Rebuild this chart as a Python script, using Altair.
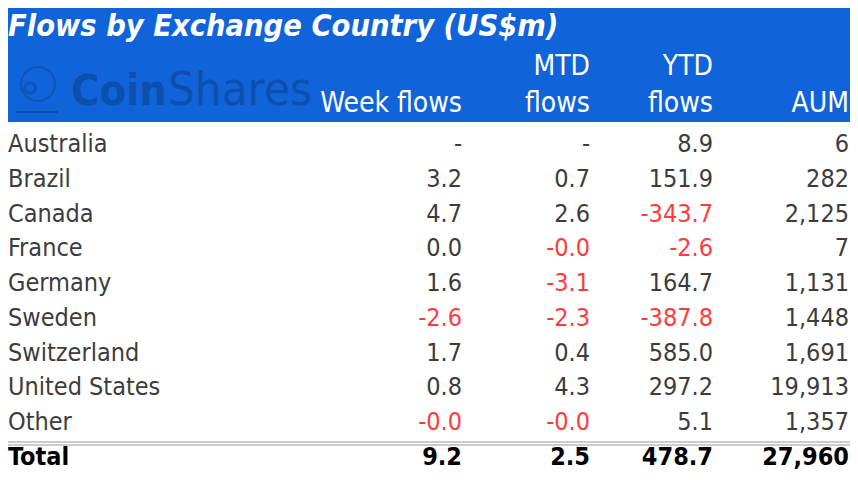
import altair as alt
import pandas as pd

title_text = "Flows by Exchange Country (US$m)"
countries = ["Australia", "Brazil", "Canada", "France", "Germany", "Sweden",
             "Switzerland", "United States", "Other"]
week_flows = ["-", "3.2", "4.7", "0.0", "1.6", "-2.6", "1.7", "0.8", "-0.0"]
mtd_flows = ["-", "0.7", "2.6", "-0.0", "-3.1", "-2.3", "0.4", "4.3", "-0.0"]
ytd_flows = ["8.9", "151.9", "-343.7", "-2.6", "164.7", "-387.8", "585.0", "297.2", "5.1"]
aum = ["6", "282", "2,125", "7", "1,131", "1,448", "1,691", "19,913", "1,357"]
total_label = "Total"
totals = ["9.2", "2.5", "478.7", "27,960"]
header_top = ["", "MTD", "YTD", ""]
header_bottom = ["Week flows", "flows", "flows", "AUM"]

BLUE = "#1163da"
LOGO = "#0c4fae"
RED = "#ff3b3b"
GREY = "#3c3c3c"
FONT = "DejaVu Sans Condensed"

W, H = 842, 464
col_x = [454, 582, 705, 841]
col_values = [week_flows, mtd_flows, ytd_flows, aum]

yscale = alt.Scale(domain=[0, 9], range=[144, 457])


def tone(v):
    return "neg" if (v.startswith("-") and v != "-") else "pos"


band = alt.Chart(pd.DataFrame({"a": [0]})).mark_rect(color=BLUE).encode(
    x=alt.value(0), x2=alt.value(W), y=alt.value(0), y2=alt.value(114)
)

title = alt.Chart(pd.DataFrame({"t": [title_text]})).mark_text(
    font=FONT, fontSize=30.5, fontWeight="bold", fontStyle="italic",
    color="white", align="left", baseline="alphabetic"
).encode(x=alt.value(0), y=alt.value(28), text="t:N")

logo_coin = alt.Chart(pd.DataFrame({"t": ["Coin"]})).mark_text(
    font=FONT, fontSize=43, fontWeight="bold", color=LOGO,
    align="left", baseline="alphabetic"
).encode(x=alt.value(63), y=alt.value(97), text="t:N")
logo_shares = alt.Chart(pd.DataFrame({"t": ["Shares"]})).mark_text(
    font=FONT, fontSize=47, fontWeight=300, color=LOGO,
    align="left", baseline="alphabetic"
).encode(x=alt.value(160), y=alt.value(97), text="t:N")
helmet = alt.Chart(pd.DataFrame({"a": [0]})).mark_point(
    shape="circle", filled=False, color=LOGO, strokeWidth=2, size=1150
).encode(x=alt.value(30), y=alt.value(76))
helmet_eye = alt.Chart(pd.DataFrame({"a": [0]})).mark_point(
    shape="circle", filled=False, color=LOGO, strokeWidth=3, size=110
).encode(x=alt.value(22), y=alt.value(80))
helmet_base = alt.Chart(pd.DataFrame({"a": [0]})).mark_rule(
    color=LOGO, strokeWidth=2
).encode(x=alt.value(8), x2=alt.value(50), y=alt.value(104))

layers = [band, title, helmet, helmet_eye, helmet_base, logo_coin, logo_shares]

for k in range(4):
    for txt, yy in ((header_top[k], 67), (header_bottom[k], 104)):
        if txt:
            layers.append(
                alt.Chart(pd.DataFrame({"t": [txt]})).mark_text(
                    font=FONT, fontSize=28, color="white",
                    align="right", baseline="alphabetic"
                ).encode(x=alt.value(col_x[k]), y=alt.value(yy), text="t:N")
            )

country_df = pd.DataFrame({"i": list(range(len(countries))), "t": countries})
layers.append(
    alt.Chart(country_df).mark_text(
        font=FONT, fontSize=25, color=GREY, align="left", baseline="alphabetic"
    ).encode(x=alt.value(0), y=alt.Y("i:Q", scale=yscale, axis=None), text="t:N")
)

color_scale = alt.Scale(domain=["pos", "neg"], range=[GREY, RED])
for k in range(4):
    vals = col_values[k]
    df = pd.DataFrame({"i": list(range(len(vals))), "t": vals,
                       "tone": [tone(v) for v in vals]})
    layers.append(
        alt.Chart(df).mark_text(
            font=FONT, fontSize=25, align="right", baseline="alphabetic"
        ).encode(
            x=alt.value(col_x[k]),
            y=alt.Y("i:Q", scale=yscale, axis=None),
            text="t:N",
            color=alt.Color("tone:N", scale=color_scale, legend=None),
        )
    )

# separator double line
sep = alt.Chart(pd.DataFrame({"a": [0]})).mark_rule(color="#9a9a9a", strokeWidth=1.2).encode(
    x=alt.value(0), x2=alt.value(W), y=alt.value(434)
)
sep2 = alt.Chart(pd.DataFrame({"a": [0]})).mark_rule(color="#9a9a9a", strokeWidth=1.2).encode(
    x=alt.value(0), x2=alt.value(W), y=alt.value(437)
)
layers += [sep, sep2]

total_df = pd.DataFrame({"i": [9], "t": [total_label]})
layers.append(
    alt.Chart(total_df).mark_text(
        font=FONT, fontSize=25, fontWeight="bold", color="black",
        align="left", baseline="alphabetic"
    ).encode(x=alt.value(0), y=alt.Y("i:Q", scale=yscale, axis=None), text="t:N")
)
for k in range(4):
    layers.append(
        alt.Chart(pd.DataFrame({"i": [9], "t": [totals[k]]})).mark_text(
            font=FONT, fontSize=25, fontWeight="bold", color="black",
            align="right", baseline="alphabetic"
        ).encode(x=alt.value(col_x[k]), y=alt.Y("i:Q", scale=yscale, axis=None), text="t:N")
    )

chart = alt.layer(*layers).properties(
    width=W, height=H, autosize="none", padding=0, background="white"
).configure_view(stroke=None).resolve_scale(color="independent")

chart.save("out.html", embed_options={"renderer": "svg", "actions": False})
